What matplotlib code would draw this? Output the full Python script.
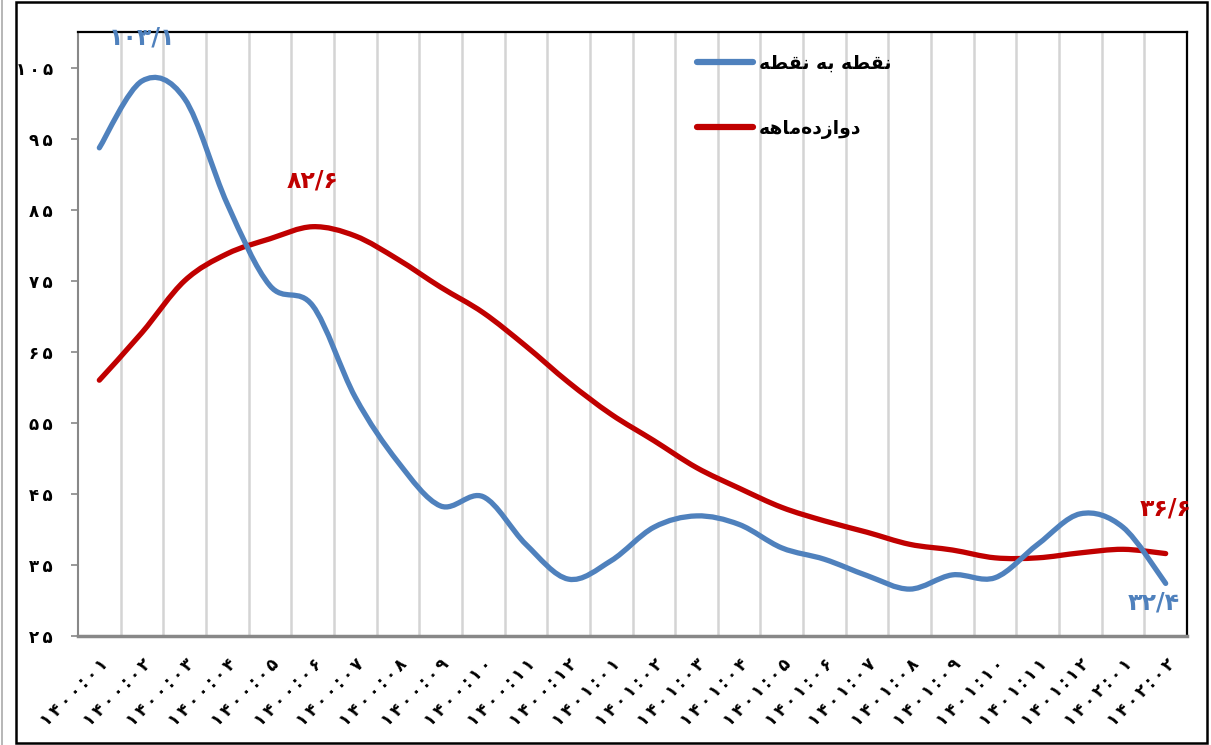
import numpy as np
import matplotlib.pyplot as plt
from matplotlib.path import Path
from matplotlib.patches import PathPatch, Rectangle
from matplotlib.lines import Line2D

# months 1400:01 .. 1402:02
months = ["1400:%02d" % m for m in range(1, 13)] + \
         ["1401:%02d" % m for m in range(1, 13)] + ["1402:01", "1402:02"]

# inflation, point to point (blue)
point_to_point = [93.7, 103.1, 100.6, 85.8, 74.3, 71.5, 58.6, 49.5, 43.3, 44.6,
                  37.9, 33.0, 35.6, 40.3, 41.9, 40.7, 37.4, 35.8, 33.5, 31.6,
                  33.6, 33.2, 37.9, 42.2, 40.3, 32.4]
# inflation, twelve month (red)
twelve_month = [61.0, 67.7, 75.0, 78.8, 80.9, 82.6, 81.3, 78.0, 74.1, 70.5,
                65.8, 60.7, 56.2, 52.5, 48.7, 45.8, 43.1, 41.2, 39.6, 37.9,
                37.1, 36.0, 36.0, 36.7, 37.2, 36.6]

yticks = [25, 35, 45, 55, 65, 75, 85, 95, 105]

BLUE = "#4F81BD"
RED = "#C00000"

# pre-shaped Persian labels (visual order, presentation forms)
label_ptp = "\uFEEA\uFEC4\uFED8\uFEE7 \uFEEA\uFE91 \uFEEA\uFEC4\uFED8\uFEE7"
label_12m = "\uFEEA\uFEEB\uFE8E\uFEE3\uFEE9\uFEA9\uFEAF\uFE8D\uFEED\uFEA9"

FA = str.maketrans("0123456789.", "۰۱۲۳۴۵۶۷۸۹/")


def fa(s, spaced=False):
    t = str(s).translate(FA)
    if spaced:
        t = "\u2009".join(t)
    return t


def smooth_path(xs, ys):
    """Excel-like smoothed line as cubic bezier segments."""
    pts = np.column_stack([xs, ys]).astype(float)
    n = len(pts)
    verts = [pts[0]]
    codes = [Path.MOVETO]
    for i in range(n - 1):
        p0 = pts[i - 1] if i > 0 else pts[i]
        p1 = pts[i]
        p2 = pts[i + 1]
        p3 = pts[i + 2] if i + 2 < n else pts[i + 1]
        verts += [p1 + (p2 - p0) / 6, p2 - (p3 - p1) / 6, p2]
        codes += [Path.CURVE4] * 3
    return Path(verts, codes)


plt.rcParams['font.family'] = ['DejaVu Sans']
fig = plt.figure(figsize=(12.11, 7.45), dpi=100)
ax = fig.add_axes([78 / 1211, 1 - 636 / 745, (1187 - 78) / 1211, (636 - 32) / 745])

x = np.arange(len(months))
for vals, col in [(twelve_month, RED), (point_to_point, BLUE)]:
    ax.add_patch(PathPatch(smooth_path(x, vals), fill=False, edgecolor=col,
                           lw=3.8, capstyle='round', joinstyle='round', zorder=3))

ax.set_xlim(-0.5, len(months) - 0.5)
ax.set_ylim(25, 110)

# vertical grid between categories
ax.set_xticks(x + 0.5, minor=True)
ax.grid(True, which='minor', axis='x', color='#D4D4D4', lw=1.8)
ax.set_axisbelow(True)
ax.tick_params(axis='x', which='both', length=0)

ax.set_xticks(x)
ax.set_xticklabels([fa(m, spaced=True) for m in months], rotation=45, ha='right',
                   va='top', rotation_mode='anchor', fontsize=12, fontweight='bold')
ax.tick_params(axis='x', pad=14)

ax.set_yticks(yticks)
ax.set_yticklabels([fa(v, spaced=True) for v in yticks], fontsize=12, fontweight='bold')
ax.tick_params(axis='y', length=5, width=1.2, color='#888888', pad=13)

for s in ['top', 'right']:
    ax.spines[s].set_color('black')
    ax.spines[s].set_linewidth(1.6)
ax.spines['left'].set_color('#888888')
ax.spines['left'].set_linewidth(1.5)
ax.spines['bottom'].set_color('#888888')
ax.spines['bottom'].set_linewidth(2.5)

# data labels
lab = dict(fontsize=17, fontweight='bold', ha='center', va='center', zorder=5)
ax.annotate(fa(point_to_point[1]), (1, point_to_point[1]), xytext=(0, 44),
            textcoords='offset pixels', color=BLUE, **lab)
ax.annotate(fa(twelve_month[5]), (5, twelve_month[5]), xytext=(0, 46),
            textcoords='offset pixels', color=RED, **lab)
ax.annotate(fa(twelve_month[-1]), (25, twelve_month[-1]), xytext=(0, 45),
            textcoords='offset pixels', color=RED, **lab)
ax.annotate(fa(point_to_point[-1]), (25, point_to_point[-1]), xytext=(-12, -19),
            textcoords='offset pixels', color=BLUE, **lab)

handles = [Line2D([], [], color=BLUE, lw=4.5, solid_capstyle='round'),
           Line2D([], [], color=RED, lw=4.5, solid_capstyle='round')]
ax.legend(handles, [label_ptp, label_12m], loc='upper left',
          bbox_to_anchor=(680 / 1211, 1 - 37 / 745), bbox_transform=fig.transFigure,
          frameon=False, prop={'size': 13.5, 'weight': 'bold'},
          handlelength=3.0, handletextpad=0.3, labelspacing=2.45)

# outer chart frame
fig.add_artist(Rectangle((16 / 1211, 2 / 745), (1207 - 16) / 1211, (743 - 2) / 745,
                         transform=fig.transFigure, fill=False, edgecolor='black', lw=1.8))
fig.add_artist(Line2D([2 / 1211, 2 / 1211], [0, 1], transform=fig.transFigure,
                      color='#AAAAAA', lw=1.2))

fig.savefig("out.png", dpi=100)
